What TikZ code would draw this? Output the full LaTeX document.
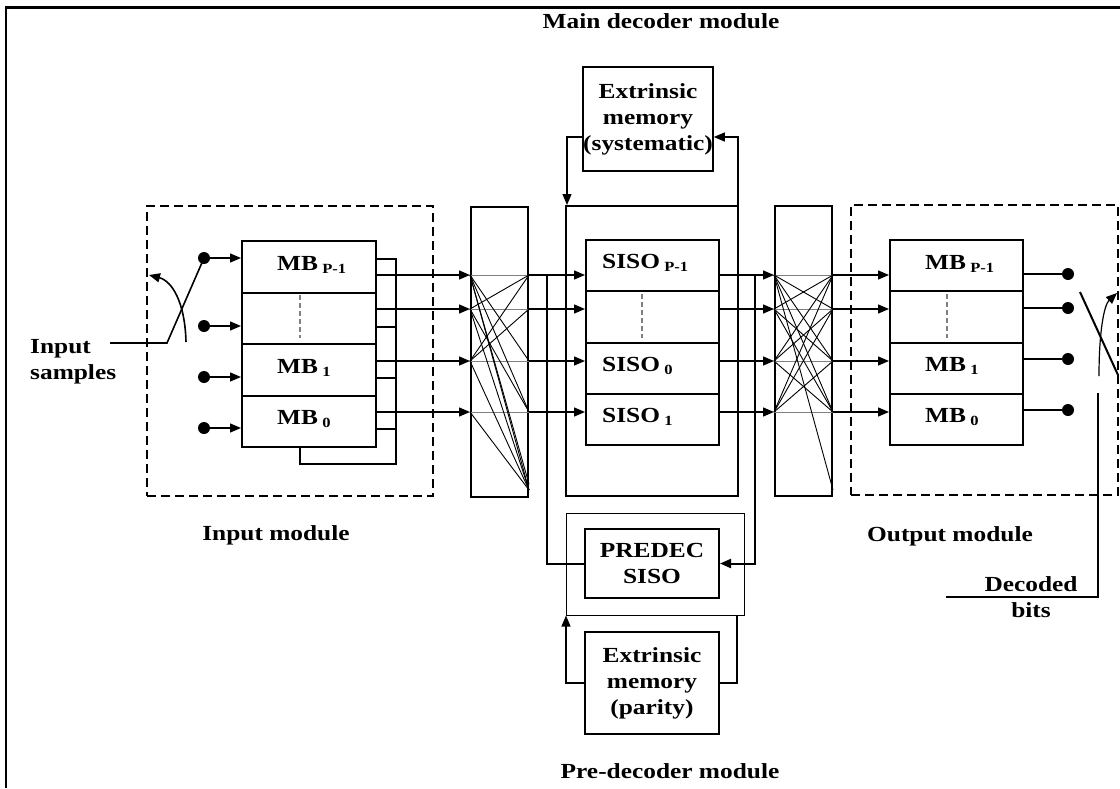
\documentclass[tikz,border=0pt]{standalone}
\usepackage{fontspec}
\setmainfont{Liberation Serif}
\usetikzlibrary{arrows.meta}
\newcommand\X[1]{\scalebox{1.18}[1]{#1}}
\newcommand\lsub[1]{\,\raisebox{-3pt}{\fontsize{14}{14}\selectfont #1}}
\begin{document}
\begin{tikzpicture}[x=1pt,y=-1pt,
  every node/.style={inner sep=0pt},
  box/.style={draw, line width=2pt},
  cellA/.style={box, minimum width=134pt, minimum height=51.5pt},
  cellB/.style={box, minimum width=133pt, minimum height=51.25pt},
  dbox/.style={draw, line width=2pt, dash pattern=on 9pt off 5pt},
  lbl/.style={font=\fontsize{21.5}{26}\selectfont\bfseries},
  arrowhd/.style={-{Triangle[length=11pt,width=9pt]}},
  arr/.style={line width=1.4pt, arrowhd},
  wire/.style={line width=1.2pt},
  xline/.style={line width=0.9pt},
  hline/.style={line width=0.9pt, draw=gray},
  gdash/.style={line width=1.5pt, draw=gray, dash pattern=on 5pt off 3pt},
  bdot/.style={circle, fill, minimum size=12pt},
  thickw/.style={line width=2pt}
]
\useasboundingbox (0,0) rectangle (1120,788);
% frame
\draw[line width=2.5pt] (6,788) -- (6,7.5) -- (1120,7.5);

% row levels
\coordinate (r3) at (0,275);
\coordinate (r2) at (0,309);
\coordinate (r1) at (0,361);
\coordinate (r0) at (0,412);
\coordinate (rb) at (0,490);
\coordinate (rc) at (0,484);

% ---------- Input module ----------
\node[dbox, minimum width=286pt, minimum height=290pt] (inmod) at (290,351) {};
\node[cellA] (mbi3) at (309,266.75) {};
\node[cellA] (mbi2) at (309,318.25) {};
\node[cellA] (mbi1) at (309,369.75) {};
\node[cellA] (mbi0) at (309,421.25) {};
\node[lbl, anchor=base west] (tmbi3) at (277,270) {\X{MB\lsub{P-1}}};
\node[lbl, anchor=base west] (tmbi1) at (277,373) {\X{MB\lsub{1}}};
\node[lbl, anchor=base west] (tmbi0) at (277,424) {\X{MB\lsub{0}}};
\draw[gdash] (300,295) -- (300,338);
\node[bdot] (di3) at (204,258) {};
\node[bdot] (di2) at (204,326) {};
\node[bdot] (di1) at (204,377) {};
\node[bdot] (di0) at (204,428) {};
\foreach \i in {0,1,2,3} \draw[arr] (di\i) -- (di\i -| mbi3.west);
\coordinate (insA) at (110,343);
\coordinate (insB) at (167,343);
\draw[wire, line width=1.6pt] (insA) -- (insB) -- (di3.center);
\coordinate (arcA) at (186,342);
\coordinate (arcB) at (149,275);
\draw[wire, line width=1.6pt, arrowhd] (arcA) .. controls (185,302) and (172,281) .. (arcB);
\node[lbl, anchor=west, align=left] (insamp) at (30,362) {\X{Input}\\\X{samples}};
\node[lbl, anchor=base] (tin) at (276,540) {\X{Input module}};
% bus
\coordinate (busT) at (396,259);
\coordinate (busB) at (396,464);
\coordinate (busL) at (300,464);
\coordinate (s2) at (396,327);
\coordinate (s1) at (396,378);
\coordinate (s0) at (396,429);
\draw[wire] (mbi3.east |- busT) -- (busT) -- (busB) -- (busL) -- (busL |- mbi0.south);
\draw[wire] (mbi2.east |- s2) -- (s2);
\draw[wire] (mbi1.east |- s1) -- (s1);
\draw[wire] (mbi0.east |- s0) -- (s0);

% ---------- Interleaver 1 ----------
\node[box, minimum width=57pt, minimum height=290pt] (il1) at (499.5,352) {};

% ---------- Main decoder ----------
\node[box, minimum width=172pt, minimum height=290pt] (maindec) at (652,351) {};
\node[cellB] (si3) at (652.5,265.625) {};
\node[cellB] (si2) at (652.5,316.875) {};
\node[cellB] (si1) at (652.5,368.125) {};
\node[cellB] (si0) at (652.5,419.375) {};
\node[lbl, anchor=base west] (tsi3) at (602,268) {\X{SISO\lsub{P-1}}};
\node[lbl, anchor=base west] (tsi1) at (602,371) {\X{SISO\lsub{0}}};
\node[lbl, anchor=base west] (tsi0) at (602,422) {\X{SISO\lsub{1}}};
\draw[gdash] (642,294) -- (642,338);
\node[box, lbl, align=center, minimum width=126pt, minimum height=104pt] (extsys) at (648,119) {\X{Extrinsic}\\\X{memory}\\\X{(systematic)}};
\node[lbl, anchor=base] (tmain) at (661,28) {\X{Main decoder module}};
\coordinate (es1) at (567,137);
\coordinate (es2) at (738,137);
\draw[wire, arrowhd] (extsys.west |- es1) -- (es1) -- (es1 |- maindec.north);
\draw[wire, arrowhd] (es2 |- maindec.north) -- (es2) -- (extsys.east |- es2);

% ---------- Pre-decoder ----------
\node[draw, line width=1pt, minimum width=178pt, minimum height=102pt] (prerect) at (655,564) {};
\node[box, lbl, align=center, fill=white, minimum width=134pt, minimum height=69pt] (predec) at (652,563.5) {\X{PREDEC}\\\X{SISO}};
\node[box, lbl, align=center, minimum width=134pt, minimum height=102pt] (extpar) at (652,683) {\X{Extrinsic}\\\X{memory}\\\X{(parity)}};
\coordinate (ep1) at (566,683);
\coordinate (ep2) at (737,683);
\draw[wire, arrowhd] (extpar.west) -- (ep1) -- (ep1 |- prerect.south);
\draw[wire] (extpar.east) -- (ep2) -- (ep2 |- prerect.south);
\node[lbl, anchor=base] (tpre) at (670,778) {\X{Pre-decoder module}};
\coordinate (tapL) at (547,275);
\coordinate (tapLb) at (547,563.5);
\coordinate (tapR) at (755,275);
\coordinate (tapRb) at (755,563.5);
\draw[thickw] (tapL) -- (tapLb) -- (predec.west);
\draw[thickw, arrowhd] (tapR) -- (tapRb) -- (predec.east);

% ---------- Interleaver 2 ----------
\node[box, minimum width=57pt, minimum height=290pt] (il2) at (803.5,351) {};

% ---------- Output module ----------
\node[dbox, minimum width=267pt, minimum height=290pt] (outmod) at (984.5,350) {};
\node[cellB] (mbo3) at (956.5,265.625) {};
\node[cellB] (mbo2) at (956.5,316.875) {};
\node[cellB] (mbo1) at (956.5,368.125) {};
\node[cellB] (mbo0) at (956.5,419.375) {};
\node[lbl, anchor=base west] (tmbo3) at (925,269) {\X{MB\lsub{P-1}}};
\node[lbl, anchor=base west] (tmbo1) at (925,371) {\X{MB\lsub{1}}};
\node[lbl, anchor=base west] (tmbo0) at (925,422) {\X{MB\lsub{0}}};
\draw[gdash] (947,294) -- (947,338);
\node[bdot] (do3) at (1068,274) {};
\node[bdot] (do2) at (1068,308) {};
\node[bdot] (do1) at (1068,359) {};
\node[bdot] (do0) at (1068,410) {};
\foreach \i in {0,1,2,3} \draw[wire] (mbo3.east |- do\i) -- (do\i);
\coordinate (sw1) at (1080,292);
\coordinate (sw2) at (1118,375);
\draw[thickw] (sw1) -- (sw2);
\coordinate (oarcA) at (1099,376);
\coordinate (oarcB) at (1117,293);
\draw[wire, arrowhd] (oarcA) .. controls (1099,332) and (1104,305) .. (oarcB);
\coordinate (dec1) at (1098,393);
\coordinate (dec2) at (1098,597);
\coordinate (dec3) at (946,597);
\draw[wire] (dec1) -- (dec2) -- (dec3);
\node[lbl, align=center] (tdec) at (1031,597) {\X{Decoded}\\\X{bits}};
\node[lbl, anchor=base] (tout) at (950,541) {\X{Output module}};

% ---------- row connectors ----------
\foreach \r in {r3,r2,r1,r0} {
  \draw[arr] (mbi3.east |- \r) -- (il1.west |- \r);
  \draw[hline] (il1.west |- \r) -- (il1.east |- \r);
  \draw[arr] (il1.east |- \r) -- (si3.west |- \r);
  \draw[arr] (si3.east |- \r) -- (il2.west |- \r);
  \draw[hline] (il2.west |- \r) -- (il2.east |- \r);
  \draw[arr] (il2.east |- \r) -- (mbo3.west |- \r);
}
% interleaver 1 crossings
\foreach \a/\b in {r3/r1, r3/r0, r3/rb, r3/rc, r2/r3, r2/r0, r2/rb, r1/r3, r1/r2, r1/rb, r0/rb}
  \draw[xline] (il1.west |- \a) -- (il1.east |- \b);
% interleaver 2 crossings
\foreach \a/\b in {r3/r2, r3/r1, r3/r0, r2/r3, r2/r1, r2/r0, r1/r3, r1/r2, r1/r0, r0/r3, r0/r2, r0/r1, r3/rb}
  \draw[xline] (il2.west |- \a) -- (il2.east |- \b);
\end{tikzpicture}
\end{document}
